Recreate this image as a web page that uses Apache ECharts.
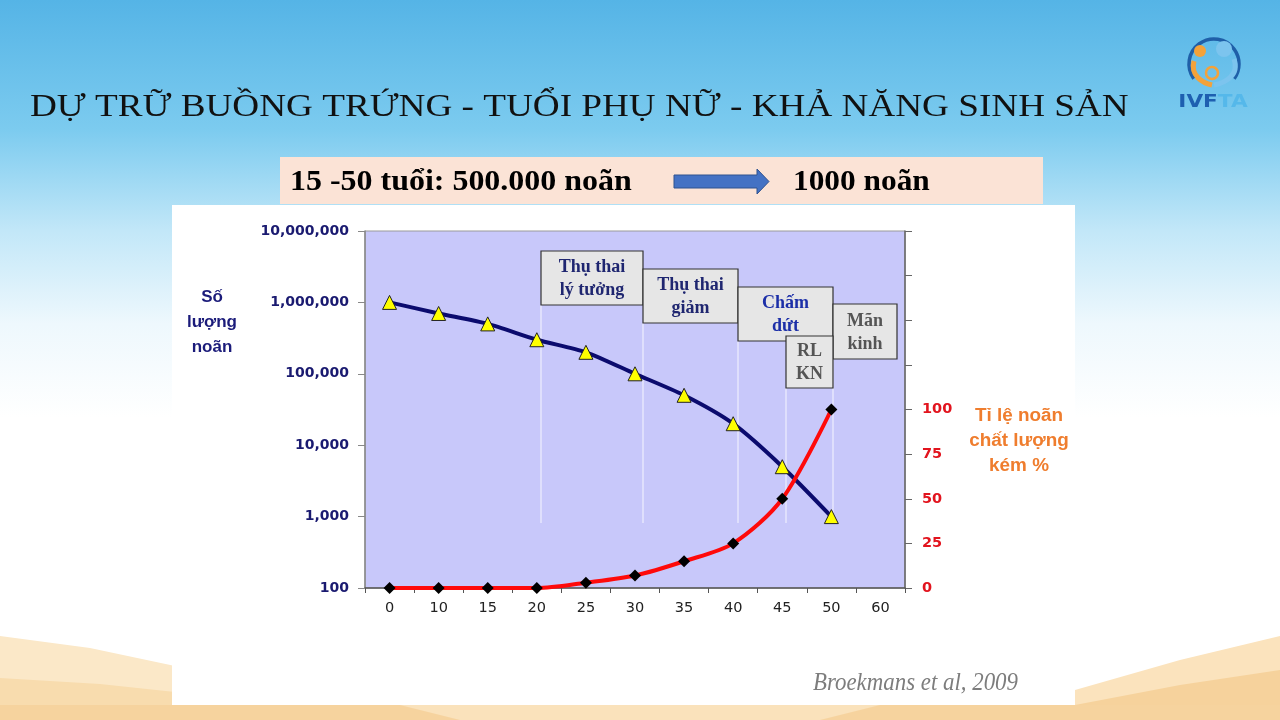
<!DOCTYPE html>
<html>
<head>
<meta charset="utf-8">
<script src="https://cdn.jsdelivr.net/npm/echarts/dist/echarts.min.js"></script>
<style>
html,body{margin:0;padding:0;width:1280px;height:720px;overflow:hidden;
background:linear-gradient(to bottom,#55b4e6 0%,#7ccbef 18%,#c2e7f8 32%,#eef8fd 45%,#ffffff 58%,#ffffff 100%);}
#chart{width:1280px;height:720px;}
</style>
</head>
<body>
<div id="chart"></div>
<script>
// ---- data ----
const ages = ['0','10','15','20','25','30','35','40','45','50','60'];
const oocyteCount = [1000000,700000,500000,300000,200000,100000,50000,20000,5000,1000,null];
const poorQualityPct = [0,0,0,0,3,7,15,25,50,100,null];
const rightTickLabels = [0,25,50,75,100];
const phaseLabels = ['Thụ thai\nlý tưởng','Thụ thai\ngiảm','Chấm\ndứt','RL\nKN','Mãn\nkinh'];
const titleText = 'DỰ TRỮ BUỒNG TRỨNG - TUỔI PHỤ NỮ - KHẢ NĂNG SINH SẢN';
const subLeft = '15 -50 tuổi: 500.000 noãn';
const subRight = '1000 noãn';
const leftAxisTitle = 'Số\nlượng\nnoãn';
const rightAxisTitle = 'Tỉ lệ noãn\nchất lượng\nkém %';
const sourceText = 'Broekmans et al, 2009';

const chart = echarts.init(document.getElementById('chart'));
const serif = '"Liberation Serif","Times New Roman",serif';
const sans = 'Arial,"Liberation Sans",sans-serif';
const wide = '"DejaVu Sans",Verdana,sans-serif';

// annotation boxes: [x1,y1,x2,y2, color]
const boxes = [
  [541,251,643,305,'#1f2670'],
  [643,269,738,323,'#1f2670'],
  [738,287,833,341,'#1c2fa8'],
  [833,304,897,359,'#555555'],
  [786,336,833,388,'#555555']
];
const boxLabelIdx = [0,1,2,4,3];
const guideLines = [[541,305],[643,323],[738,341],[786,388],[833,359]];

const graphics = [];
// bottom waves
graphics.push({type:'polygon',z:-10,shape:{points:[[0,636],[90,648],[175,666],[175,720],[0,720]]},style:{fill:'#fbe8c8'}});
graphics.push({type:'polygon',z:-9,shape:{points:[[0,678],[100,684],[175,692],[175,720],[0,720]]},style:{fill:'#f8dcae'}});
graphics.push({type:'polygon',z:-10,shape:{points:[[1075,690],[1180,660],[1280,636],[1280,720],[1075,720]]},style:{fill:'#fbe3bd'}});
graphics.push({type:'polygon',z:-9,shape:{points:[[1075,705],[1180,685],[1280,670],[1280,720],[1075,720]]},style:{fill:'#f6d29c'}});
graphics.push({type:'polygon',z:-9,shape:{points:[[0,705],[1280,705],[1280,720],[0,720]]},style:{fill:'#f6d39e'}});
graphics.push({type:'polygon',z:-8,shape:{points:[[400,705],[640,700],[880,705],[820,720],[460,720]]},style:{fill:'#fae2bb'}});
// white chart panel
graphics.push({type:'rect',z:-5,shape:{x:172,y:205,width:903,height:500},style:{fill:'#ffffff'}});
// title
graphics.push({type:'text',x:30,y:108,scaleX:1.162,style:{text:titleText,font:'normal 32px '+serif,fill:'#111',textVerticalAlign:'middle'}});
// subtitle box
graphics.push({type:'rect',shape:{x:280,y:157,width:763,height:47},style:{fill:'#fbe3d6'}});
graphics.push({type:'text',x:290,y:182,scaleX:1.065,style:{text:subLeft,font:'bold 30px '+serif,fill:'#000',textVerticalAlign:'middle'}});
graphics.push({type:'text',x:793,y:182,scaleX:1.045,style:{text:subRight,font:'bold 30px '+serif,fill:'#000',textVerticalAlign:'middle'}});
graphics.push({type:'polygon',shape:{points:[[674,175],[757,175],[757,169],[769,181.5],[757,194],[757,188],[674,188]]},style:{fill:'#4472c4',stroke:'#2f528f',lineWidth:1}});
// axis titles
graphics.push({type:'text',x:212,y:322,style:{text:leftAxisTitle,font:'bold 17px '+sans,fill:'#1b1b7a',textAlign:'center',textVerticalAlign:'middle',lineHeight:25}});
graphics.push({type:'text',x:1019,y:441,scaleX:1.08,style:{text:rightAxisTitle,font:'bold 17.5px '+sans,fill:'#ef7d2e',textAlign:'center',textVerticalAlign:'middle',lineHeight:25}});
// source
graphics.push({type:'text',x:813,y:683,scaleX:0.915,style:{text:sourceText,font:'italic 25px '+serif,fill:'#7d7d7d',textVerticalAlign:'middle'}});
// guide lines
guideLines.forEach(g=>{
  graphics.push({type:'line',z:3,shape:{x1:g[0],y1:g[1],x2:g[0],y2:523},style:{stroke:'rgba(255,255,255,0.85)',lineWidth:1}});
});
// boxes
boxes.forEach((b,i)=>{
  graphics.push({type:'rect',z:20,shape:{x:b[0],y:b[1],width:b[2]-b[0],height:b[3]-b[1]},style:{fill:'#e6e6e6',stroke:'#333',lineWidth:1.2}});
  graphics.push({type:'text',z:21,x:(b[0]+b[2])/2,y:(b[1]+b[3])/2+1,style:{text:phaseLabels[boxLabelIdx[i]],font:'bold 18px '+serif,fill:b[4],textAlign:'center',textVerticalAlign:'middle',lineHeight:23}});
});
// logo
graphics.push({type:'arc',shape:{cx:1214,cy:64,r:25,startAngle:Math.PI*0.8,endAngle:Math.PI*2.2,clockwise:true},style:{stroke:'#1f5fa8',lineWidth:3.5,fill:null}});
graphics.push({type:'circle',shape:{cx:1200,cy:51,r:6},style:{fill:'#f4a23a'}});
graphics.push({type:'circle',shape:{cx:1224,cy:49,r:8},style:{fill:'#7cc4ee'}});
graphics.push({type:'bezierCurve',shape:{x1:1194,y1:61,x2:1212,y2:85,cpx1:1190,cpy1:76,cpx2:1203,cpy2:83},style:{stroke:'#f4a23a',lineWidth:5,fill:null}});
graphics.push({type:'bezierCurve',shape:{x1:1234,y1:59,x2:1214,y2:85,cpx1:1240,cpy1:76,cpx2:1224,cpy2:83},style:{stroke:'#7cc4ee',lineWidth:5,fill:null}});
graphics.push({type:'circle',shape:{cx:1212,cy:73,r:6},style:{fill:null,stroke:'#f4a23a',lineWidth:2.5}});
graphics.push({type:'text',x:1213,y:102,scaleX:1.2,style:{text:'{a|IVF}{b|TA}',rich:{a:{fill:'#1e5fb0',font:'bold 18px '+wide},b:{fill:'#55b8ea',font:'bold 18px '+wide}},textAlign:'center',textVerticalAlign:'middle'}});

const option = {
  backgroundColor:'transparent',
  animation:false,
  grid:{left:365,right:375,top:231,bottom:132,show:true,backgroundColor:'#c8c8fa',borderColor:'#9a9a9a',borderWidth:1},
  xAxis:{type:'category',data:ages,boundaryGap:true,
    axisLine:{lineStyle:{color:'#555',width:1.5}},
    axisTick:{show:true,inside:false,length:5,lineStyle:{color:'#555'},alignWithLabel:false},
    axisLabel:{color:'#222',fontSize:14.5,fontFamily:wide,margin:13,interval:0},
    splitLine:{show:false}},
  yAxis:[
    {type:'log',logBase:10,min:100,max:10000000,position:'left',
     axisLine:{show:true,lineStyle:{color:'#888',width:1.5}},
     axisTick:{show:true,length:7,lineStyle:{color:'#888'}},
     axisLabel:{color:'#1a1a70',fontWeight:'bold',fontSize:14,fontFamily:wide,margin:16,
       formatter:v=>Number(v).toLocaleString('en-US')},
     splitLine:{show:false}},
    {type:'value',min:0,max:200,interval:25,position:'right',
     axisLine:{show:true,lineStyle:{color:'#666',width:1.5}},
     axisTick:{show:true,length:7,lineStyle:{color:'#666'}},
     axisLabel:{color:'#e2141e',fontWeight:'bold',fontSize:14.5,fontFamily:wide,margin:17,
       formatter:v=>rightTickLabels.indexOf(v)>=0?String(v):''},
     splitLine:{show:false}}
  ],
  series:[
    {name:'Số lượng noãn',type:'line',yAxisIndex:0,data:oocyteCount,smooth:0.25,
     symbol:'triangle',symbolSize:14,z:5,
     lineStyle:{color:'#0b0b6e',width:4},
     itemStyle:{color:'#ffff00',borderColor:'#222',borderWidth:1}},
    {name:'Tỉ lệ noãn chất lượng kém',type:'line',yAxisIndex:1,data:poorQualityPct,smooth:0.3,
     symbol:'diamond',symbolSize:12,z:6,
     lineStyle:{color:'#ff0a0a',width:4},
     itemStyle:{color:'#000',borderColor:'#000',borderWidth:0}}
  ],
  graphic:{elements:graphics}
};
chart.setOption(option);
</script>
</body>
</html>
